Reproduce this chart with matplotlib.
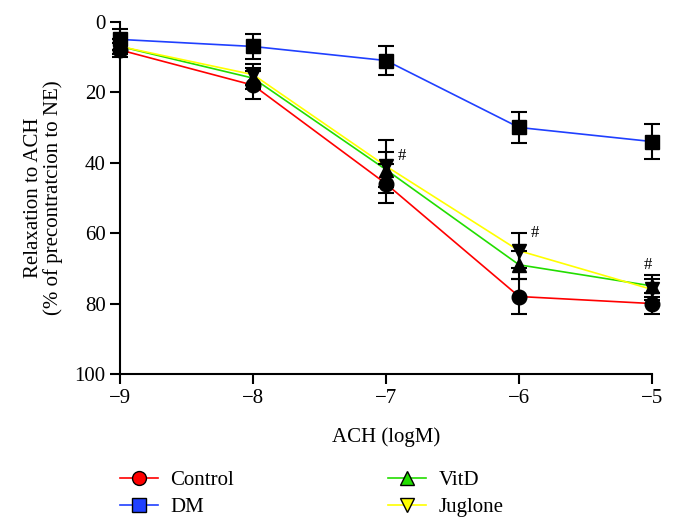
import matplotlib
matplotlib.use("Agg")
import matplotlib.pyplot as plt
import numpy as np

plt.rcParams['font.family'] = ['Liberation Serif', 'DejaVu Serif']

# concentration (log M)
x = [-9, -8, -7, -6, -5]

# relaxation (% of precontraction to NE) and SEM
control = [8, 18, 46, 78, 80]
control_err = [2, 4, 5.5, 5, 3]
dm = [5, 7, 11, 30, 34]
dm_err = [3, 3.5, 4, 4.5, 5]
vitd = [7, 16, 42, 69, 75]
vitd_err = [2, 3, 5, 4, 3]
juglone = [7, 15, 41, 65, 76]
juglone_err = [2, 3, 7.5, 5, 3]

series = [
    ('Control', control, control_err, 'o', '#ff0000'),
    ('DM', dm, dm_err, 's', '#2040ff'),
    ('VitD', vitd, vitd_err, '^', '#22dd00'),
    ('Juglone', juglone, juglone_err, 'v', '#ffff00'),
]

# significance marks
hash_x = [-6.88, -5.88, -5.03]
hash_y = [38, 60, 69]

fig = plt.figure(figsize=(6.75, 5.32), dpi=100)
ax = fig.add_axes([0.178, 0.297, 0.788, 0.662])

handles = []
for name, vals, err, marker, color in series:
    # error bars + black markers on the plot
    ax.errorbar(x, vals, yerr=err, fmt='none', ecolor='black', elinewidth=1.5,
                capsize=6, capthick=1.5, clip_on=False, zorder=3)
    ax.plot(x, vals, color=color, linewidth=1.2, zorder=2, clip_on=False)
    ax.plot(x, vals, linestyle='none', marker=marker, markersize=10.5,
            color='black', zorder=4, clip_on=False)
    h, = ax.plot([], [], color=color, linewidth=1.2, marker=marker,
                 markersize=10, markerfacecolor=color, markeredgecolor='black',
                 label=name)
    handles.append(h)

for hx, hy in zip(hash_x, hash_y):
    ax.text(hx, hy, '#', fontsize=12, ha='center', va='center')

ax.set_xlim(-9, -5)
ax.set_ylim(100, 0)
ax.set_xticks(x)
ax.set_xticklabels(['\u22129', '\u22128', '\u22127', '\u22126', '\u22125'])
ax.set_yticks([0, 20, 40, 60, 80, 100])
ax.tick_params(labelsize=15, width=1.5, length=7, direction='out')
ax.spines['top'].set_visible(False)
ax.spines['right'].set_visible(False)
ax.spines['left'].set_linewidth(1.5)
ax.spines['bottom'].set_linewidth(1.5)
ax.spines['left'].set_bounds(0, 100)
ax.spines['bottom'].set_bounds(-9, -5)

ax.set_xlabel('ACH (logM)', fontsize=15, labelpad=14)
ax.set_ylabel('Relaxation to ACH\n(% of precontratcion to NE)', fontsize=15,
              labelpad=8, linespacing=1.05)

fig.legend(handles=handles, loc='upper left', bbox_to_anchor=(0.163, 0.135),
           ncol=2, frameon=False, fontsize=15, columnspacing=7.4,
           handlelength=1.8, labelspacing=0.35, handletextpad=0.6,
           borderpad=0)

fig.savefig('out.png', dpi=100)
